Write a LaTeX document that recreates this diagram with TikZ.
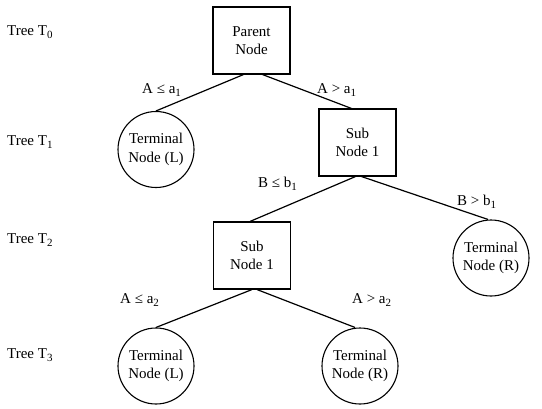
\documentclass[tikz,border=0pt]{standalone}
\usepackage{fontspec}
\setmainfont{Liberation Serif}
\newcommand\lowsub[1]{\raisebox{-3pt}{\fontsize{11}{11}\selectfont #1}}
\begin{document}
\begin{tikzpicture}[x=1pt,y=-1pt,
  nodetext/.style={font=\fontsize{15}{18.5}\selectfont, align=center},
  box/.style={nodetext, draw, line width=1.1pt, minimum width=77pt, minimum height=67pt, inner sep=0pt},
  term/.style={nodetext, draw, circle, line width=1.1pt, minimum size=76pt, inner sep=0pt},
  lbl/.style={font=\fontsize{15}{17}\selectfont, anchor=base west, inner sep=0pt},
  edge/.style={line width=1.2pt}]
\useasboundingbox (0,0) rectangle (542,408);

\node[lbl] (t0) at (7,35) {Tree T\lowsub{0}};
\node[lbl] (t1) at (7,145) {Tree T\lowsub{1}};
\node[lbl] (t2) at (7,243) {Tree T\lowsub{2}};
\node[lbl] (t3) at (7,358) {Tree T\lowsub{3}};

\node[box] (P) at (251.5,40.5) {Parent\\Node};
\node[term] (TL1) at (156,149.5) {Terminal\\Node (L)};
\node[box] (S1) at (357.5,142.5) {Sub\\Node 1};
\node[box] (S2) at (252,255.5) {Sub\\Node 1};
\node[term] (TR2) at (491,258) {Terminal\\Node (R)};
\node[term] (TL3) at (156,366) {Terminal\\Node (L)};
\node[term] (TR3) at (360,366) {Terminal\\Node (R)};

\draw[edge] ([xshift=-8pt]P.south) -- (TL1.north);
\draw[edge] ([xshift=11pt]P.south) -- ([xshift=-6pt]S1.north);
\draw[edge] ([xshift=-2pt]S1.south) -- ([xshift=-2pt]S2.north);
\draw[edge] ([xshift=4pt]S1.south) -- ([xshift=-3pt]TR2.north);
\draw[edge] (S2.south) -- (TL3.north);
\draw[edge] ([xshift=5pt]S2.south) -- ([xshift=-5pt]TR3.north);

\node[lbl] (l1) at (142,93) {A ≤ a\lowsub{1}};
\node[lbl] (l2) at (317,93) {A > a\lowsub{1}};
\node[lbl] (l3) at (258,187) {B ≤ b\lowsub{1}};
\node[lbl] (l4) at (457,205) {B > b\lowsub{1}};
\node[lbl] (l5) at (120,303) {A ≤ a\lowsub{2}};
\node[lbl] (l6) at (352,303) {A > a\lowsub{2}};
\end{tikzpicture}
\end{document}
